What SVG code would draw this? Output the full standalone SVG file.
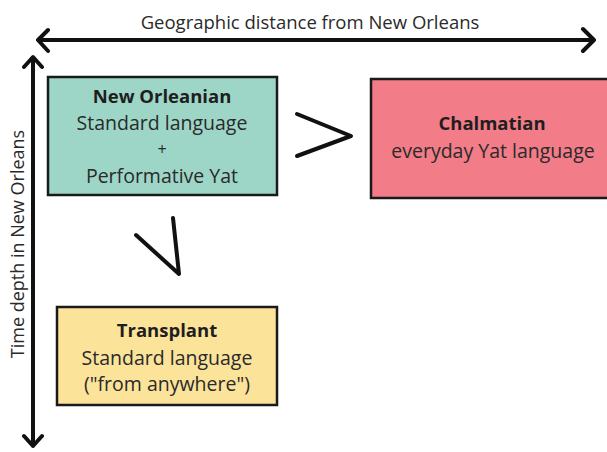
<svg xmlns="http://www.w3.org/2000/svg" width="607" height="452" viewBox="0 0 607 452">
<style>
.t{font-family:"Open Sans","Liberation Sans",sans-serif;font-size:19.5px;fill:#2a2a2a;text-anchor:middle}
.b{font-weight:bold;fill:#1e1e1e;font-size:18.5px}
.box{stroke:#1a1a1a;stroke-width:2.5}
.ln{fill:none;stroke:#111;stroke-width:4;stroke-linecap:round;stroke-linejoin:round}
</style>
<rect width="607" height="452" fill="#fff"/>
<g id="axes">
<path class="ln" d="M38 40 H593 M48 30 L38 40 L48 51 M583 29 L594 40 L583 51"/>
<path class="ln" d="M33 58 V446 M24 67 L33 57 L42 67 M24 436 L33 446 L42 436"/>
<text class="t" x="310" y="29" style="font-size:18.5px">Geographic distance from New Orleans</text>
<text class="t" transform="translate(24 244) rotate(-90)" style="font-size:18px">Time depth in New Orleans</text>
</g>
<g id="connectors">
<path class="ln" d="M297 114 L351 136 L297 156"/>
<path class="ln" d="M136 235 L179 274 L173 218"/>
</g>
<g id="new-orleanian">
<rect class="box" x="48" y="77" width="229" height="118" fill="#9dd6c7"/>
<text class="t b" x="162" y="103">New Orleanian</text>
<text class="t" x="162" y="130">Standard language</text>
<text class="t" x="162" y="155" style="font-size:16px">+</text>
<text class="t" x="162" y="183">Performative Yat</text>
</g>
<g id="chalmatian">
<rect class="box" x="371" y="79" width="238" height="119" fill="#f27c87"/>
<text class="t b" x="492" y="130">Chalmatian</text>
<text class="t" x="493" y="158">everyday Yat language</text>
</g>
<g id="transplant">
<rect class="box" x="57" y="307" width="220" height="98" fill="#fbe39a"/>
<text class="t b" x="167" y="337">Transplant</text>
<text class="t" x="167" y="365">Standard language</text>
<text class="t" x="167" y="391">("from anywhere")</text>
</g>
</svg>
